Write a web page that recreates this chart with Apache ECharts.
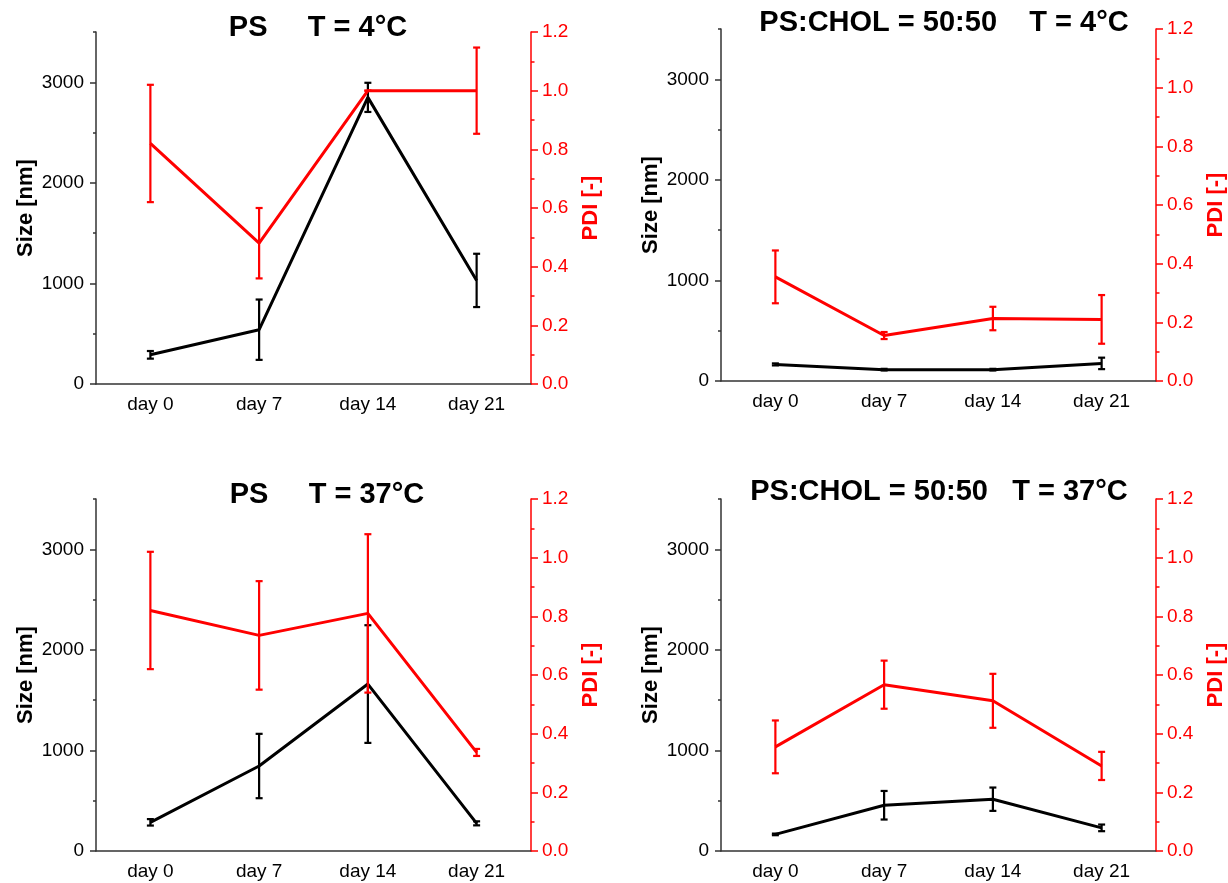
<!DOCTYPE html>
<html>
<head>
<meta charset="utf-8">
<script src="https://cdn.jsdelivr.net/npm/echarts@6/dist/echarts.min.js"></script>
<style>
  html, body { margin: 0; background: #fff; }
  #chart { width: 1228px; height: 883px; }
</style>
</head>
<body>
<div id="chart"></div>
<script>
const days = ['day 0', 'day 7', 'day 14', 'day 21'];
const sizeTicks = [0, 1000, 2000, 3000];

// PS, 4 °C
const psColdSize = [290, 540, 2850, 1030];
const psColdSizeErr = [38, 300, 145, 265];
const psColdPdi = [0.82, 0.48, 1.0, 1.0];
const psColdPdiErr = [0.2, 0.12, 0, 0.147];

// PS:CHOL 50:50, 4 °C
const cholColdSize = [165, 113, 113, 175];
const cholColdSizeErr = [10, 8, 8, 57];
const cholColdPdi = [0.355, 0.155, 0.213, 0.21];
const cholColdPdiErr = [0.09, 0.012, 0.04, 0.083];

// PS, 37 °C
const psWarmSize = [285, 845, 1660, 275];
const psWarmSizeErr = [32, 320, 585, 20];
const psWarmPdi = [0.82, 0.735, 0.81, 0.336];
const psWarmPdiErr = [0.2, 0.185, 0.27, 0.012];

// PS:CHOL 50:50, 37 °C
const cholWarmSize = [165, 455, 515, 230];
const cholWarmSizeErr = [8, 142, 116, 33];
const cholWarmPdi = [0.355, 0.567, 0.512, 0.29];
const cholWarmPdiErr = [0.09, 0.082, 0.092, 0.048];

const FONT = 'Arial, "Liberation Sans", sans-serif';
const AXIS = '#333';
const RED = '#ff0000';
const CAP = 3.5;

const panels = [
  { title: 'PS     T = 4°C', size: psColdSize, sizeErr: psColdSizeErr, pdi: psColdPdi, pdiErr: psColdPdiErr,
    grid: { left: 96, top: 32, width: 435, height: 352 }, tx: 318, ty: 28 },
  { title: 'PS:CHOL = 50:50    T = 4°C', size: cholColdSize, sizeErr: cholColdSizeErr, pdi: cholColdPdi, pdiErr: cholColdPdiErr,
    grid: { left: 721, top: 29, width: 438, height: 352 }, tx: 944, ty: 23 },
  { title: 'PS     T = 37°C', size: psWarmSize, sizeErr: psWarmSizeErr, pdi: psWarmPdi, pdiErr: psWarmPdiErr,
    grid: { left: 96, top: 499, width: 435, height: 352 }, tx: 327, ty: 495 },
  { title: 'PS:CHOL = 50:50   T = 37°C', size: cholWarmSize, sizeErr: cholWarmSizeErr, pdi: cholWarmPdi, pdiErr: cholWarmPdiErr,
    grid: { left: 721, top: 499, width: 438, height: 352 }, tx: 939, ty: 492 },
];

function errorBar(color) {
  return function (params, api) {
    const top = api.coord([api.value(0), api.value(1)]);
    const bottom = api.coord([api.value(0), api.value(2)]);
    const st = () => ({ stroke: color, lineWidth: 2.2 });
    return {
      type: 'group',
      children: [
        { type: 'line', shape: { x1: top[0], y1: top[1], x2: bottom[0], y2: bottom[1] }, style: st() },
        { type: 'line', shape: { x1: top[0] - CAP, y1: top[1], x2: top[0] + CAP, y2: top[1] }, style: st() },
        { type: 'line', shape: { x1: bottom[0] - CAP, y1: bottom[1], x2: bottom[0] + CAP, y2: bottom[1] }, style: st() },
      ],
    };
  };
}

const option = {
  animation: false,
  backgroundColor: '#fff',
  grid: [],
  xAxis: [],
  yAxis: [],
  series: [],
  graphic: [],
};

panels.forEach((p, i) => {
  option.grid.push(p.grid);

  const xMain = option.xAxis.length;
  option.xAxis.push({
    type: 'category',
    gridIndex: i,
    data: days,
    boundaryGap: true,
    axisLine: { lineStyle: { color: AXIS, width: 1.5 } },
    axisTick: { alignWithLabel: true, length: 5, lineStyle: { color: AXIS, width: 1.5 } },
    axisLabel: { color: '#000', fontSize: 19, fontFamily: FONT, margin: 11 },
  });
  // short ticks between the days
  option.xAxis.push({
    type: 'category',
    gridIndex: i,
    data: days,
    boundaryGap: true,
    axisLine: { show: false },
    axisTick: { length: 3, lineStyle: { color: AXIS, width: 1.5 } },
    axisLabel: { show: false },
  });

  const ySize = option.yAxis.length;
  option.yAxis.push({
    type: 'value',
    gridIndex: i,
    position: 'left',
    min: 0,
    max: 3500,
    interval: 1000,
    name: 'Size [nm]',
    nameLocation: 'middle',
    nameRotate: 90,
    nameGap: 59,
    nameTextStyle: { color: '#000', fontSize: 22, fontWeight: 'bold', fontFamily: FONT },
    axisLine: { show: true, lineStyle: { color: AXIS, width: 1.5 } },
    axisTick: { show: true, length: 6, customValues: sizeTicks, lineStyle: { color: AXIS, width: 1.5 } },
    axisLabel: {
      color: '#000', fontSize: 19, fontFamily: FONT, margin: 12,
      customValues: sizeTicks,
      formatter: (v) => (v > 3000 ? '' : String(v)),
    },
    splitLine: { show: false },
  });
  // short ticks every 500 nm
  option.yAxis.push({
    type: 'value',
    gridIndex: i,
    position: 'left',
    min: 0,
    max: 3500,
    interval: 500,
    axisLine: { show: false },
    axisTick: { show: true, length: 3, lineStyle: { color: AXIS, width: 1.5 } },
    axisLabel: { show: false },
    splitLine: { show: false },
  });

  const yPdi = option.yAxis.length;
  option.yAxis.push({
    type: 'value',
    gridIndex: i,
    position: 'right',
    min: 0,
    max: 1.2,
    interval: 0.2,
    name: 'PDI [-]',
    nameLocation: 'middle',
    nameRotate: 90,
    nameGap: 49,
    nameTextStyle: { color: RED, fontSize: 22, fontWeight: 'bold', fontFamily: FONT },
    axisLine: { show: true, lineStyle: { color: RED, width: 1.5 } },
    axisTick: { show: true, length: 7, lineStyle: { color: RED, width: 1.5 } },
    minorTick: { show: true, splitNumber: 2, length: 3.5, lineStyle: { color: RED, width: 1.5 } },
    axisLabel: { color: RED, fontSize: 19, fontFamily: FONT, margin: 11, formatter: (v) => v.toFixed(1) },
    splitLine: { show: false },
  });

  option.series.push({
    type: 'line',
    xAxisIndex: xMain,
    yAxisIndex: ySize,
    data: p.size,
    symbol: 'none',
    lineStyle: { color: '#000', width: 3 },
    z: 3,
  });
  option.series.push({
    type: 'custom',
    xAxisIndex: xMain,
    yAxisIndex: ySize,
    data: p.size.map((v, k) => [k, v + p.sizeErr[k], v - p.sizeErr[k]]),
    renderItem: errorBar('#000'),
    z: 3,
  });
  option.series.push({
    type: 'line',
    xAxisIndex: xMain,
    yAxisIndex: yPdi,
    data: p.pdi,
    symbol: 'none',
    lineStyle: { color: RED, width: 3 },
    z: 4,
  });
  option.series.push({
    type: 'custom',
    xAxisIndex: xMain,
    yAxisIndex: yPdi,
    data: p.pdi.map((v, k) => [k, v + p.pdiErr[k], v - p.pdiErr[k]]),
    renderItem: errorBar(RED),
    z: 4,
  });

  option.graphic.push({
    type: 'text',
    x: p.tx,
    y: p.ty,
    style: {
      text: p.title,
      fill: '#000',
      font: 'bold 29px ' + FONT,
      align: 'center',
      verticalAlign: 'middle',
      textAlign: 'center',
      textVerticalAlign: 'middle',
    },
  });
});

const chart = echarts.init(document.getElementById('chart'));
chart.setOption(option);
</script>
</body>
</html>
